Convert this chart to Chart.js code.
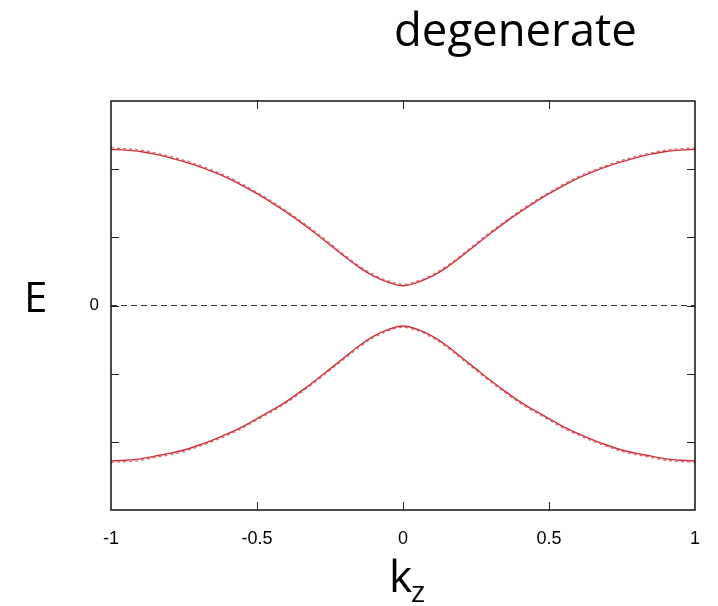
<!DOCTYPE html>
<html>
<head>
<meta charset="utf-8">
<script src="https://cdn.jsdelivr.net/npm/chart.js@4.4.0/dist/chart.umd.min.js"></script>
<style>
  html, body { margin: 0; padding: 0; background: #fff; }
  #wrap { width: 718px; height: 606px; }
</style>
</head>
<body>
<div id="wrap"><canvas id="chartBandes"></canvas></div>
<script>
// === Données ===
const kz = [-1, -0.95, -0.9, -0.85, -0.8, -0.75, -0.7, -0.65, -0.6, -0.55, -0.5,
  -0.45, -0.4, -0.35, -0.3, -0.25, -0.2, -0.15, -0.1, -0.05, 0,
  0.05, 0.1, 0.15, 0.2, 0.25, 0.3, 0.35, 0.4, 0.45, 0.5,
  0.55, 0.6, 0.65, 0.7, 0.75, 0.8, 0.85, 0.9, 0.95, 1];

// bande haute (trait plein)
const hautPlein = [2.29, 2.28, 2.26, 2.22, 2.17, 2.11, 2.04, 1.96, 1.87, 1.76, 1.64,
  1.51, 1.37, 1.22, 1.06, 0.89, 0.72, 0.56, 0.43, 0.34, 0.29,
  0.34, 0.43, 0.56, 0.72, 0.89, 1.06, 1.22, 1.37, 1.51, 1.64,
  1.76, 1.87, 1.96, 2.04, 2.11, 2.17, 2.22, 2.26, 2.28, 2.29];

// bande haute (pointillés)
const hautTirets = [2.31, 2.30, 2.28, 2.24, 2.19, 2.13, 2.06, 1.98, 1.89, 1.78, 1.66,
  1.53, 1.39, 1.24, 1.08, 0.91, 0.74, 0.58, 0.45, 0.36, 0.31,
  0.36, 0.45, 0.58, 0.74, 0.91, 1.08, 1.24, 1.39, 1.53, 1.66,
  1.78, 1.89, 1.98, 2.06, 2.13, 2.19, 2.24, 2.28, 2.30, 2.31];

// bande basse (trait plein)
const basPlein = [-2.28, -2.27, -2.25, -2.21, -2.17, -2.12, -2.05, -1.97, -1.88, -1.78, -1.66,
  -1.54, -1.41, -1.26, -1.10, -0.93, -0.76, -0.59, -0.45, -0.35, -0.30,
  -0.35, -0.45, -0.59, -0.76, -0.93, -1.10, -1.26, -1.41, -1.54, -1.66,
  -1.78, -1.88, -1.97, -2.05, -2.12, -2.17, -2.21, -2.25, -2.27, -2.28];

// bande basse (pointillés)
const basTirets = [-2.30, -2.29, -2.27, -2.23, -2.19, -2.14, -2.07, -1.99, -1.90, -1.80, -1.68,
  -1.56, -1.43, -1.28, -1.12, -0.95, -0.78, -0.61, -0.47, -0.37, -0.32,
  -0.37, -0.47, -0.61, -0.78, -0.95, -1.12, -1.28, -1.43, -1.56, -1.68,
  -1.80, -1.90, -1.99, -2.07, -2.14, -2.19, -2.23, -2.27, -2.29, -2.30];

const zero = [0, 0];
const ticksX = [-1, -0.5, 0, 0.5, 1];
const ticksY = [-3, -2, -1, 0, 1, 2, 3];

const ROUGE = "#cc2f3a";
const ROUGE_CLAIR = "#d9646c";

function pts(xs, ys) {
  return xs.map((x, i) => ({ x, y: ys[i] }));
}

// === Cadre, graduations intérieures et titres ===
const cadre = {
  id: "cadre",
  afterDraw(chart) {
    const { ctx, chartArea: a, scales } = chart;
    const sx = scales.x, sy = scales.y;
    ctx.save();
    ctx.strokeStyle = "#111";
    ctx.lineWidth = 1.5;
    ctx.strokeRect(a.left, a.top, a.right - a.left, a.bottom - a.top);

    ctx.lineWidth = 1;
    ctx.strokeStyle = "#222";
    ctx.beginPath();
    ticksX.slice(1, -1).forEach(v => {
      const px = Math.round(sx.getPixelForValue(v)) + 0.5;
      ctx.moveTo(px, a.bottom); ctx.lineTo(px, a.bottom - 8);
      ctx.moveTo(px, a.top); ctx.lineTo(px, a.top + 8);
    });
    ticksY.slice(1, -1).forEach(v => {
      const py = Math.round(sy.getPixelForValue(v)) + 0.5;
      ctx.moveTo(a.left, py); ctx.lineTo(a.left + 8, py);
      ctx.moveTo(a.right, py); ctx.lineTo(a.right - 8, py);
    });
    ctx.stroke();

    ctx.fillStyle = "#000";
    ctx.textBaseline = "alphabetic";
    ctx.textAlign = "left";
    ctx.font = "45.5px 'Open Sans'";
    ctx.fillText("degenerate", 394, 46);

    ctx.font = "42px 'Open Sans'";
    ctx.fillText("E", 24, 312);

    ctx.font = "44px 'Open Sans'";
    ctx.fillText("k", 389, 592);
    ctx.font = "30px 'Open Sans'";
    ctx.fillText("z", 411, 602);
    ctx.restore();
  }
};

// === Graphique ===
const ctx = document.getElementById("chartBandes").getContext("2d");
const chart = new Chart(ctx, {
  type: "line",
  data: {
    datasets: [
      { data: pts([-1, 1], zero), borderColor: "#333", borderWidth: 1.2, borderDash: [6, 4], pointRadius: 0 },
      { data: pts(kz, hautTirets), borderColor: ROUGE_CLAIR, borderWidth: 1.3, borderDash: [3, 3], pointRadius: 0, cubicInterpolationMode: "monotone" },
      { data: pts(kz, basTirets), borderColor: ROUGE_CLAIR, borderWidth: 1.3, borderDash: [3, 3], pointRadius: 0, cubicInterpolationMode: "monotone" },
      { data: pts(kz, hautPlein), borderColor: ROUGE, borderWidth: 1.4, pointRadius: 0, cubicInterpolationMode: "monotone" },
      { data: pts(kz, basPlein), borderColor: ROUGE, borderWidth: 1.4, pointRadius: 0, cubicInterpolationMode: "monotone" }
    ]
  },
  options: {
    responsive: true,
    maintainAspectRatio: false,
    animation: false,
    layout: { padding: { top: 101, right: 20, left: 0, bottom: 0 } },
    plugins: { legend: { display: false }, tooltip: { enabled: false } },
    scales: {
      x: {
        type: "linear", min: -1, max: 1,
        afterBuildTicks: s => { s.ticks = ticksX.map(v => ({ value: v })); },
        afterFit: s => { s.height = 96; },
        grid: { display: false, drawTicks: false },
        border: { display: false },
        ticks: { color: "#000", padding: 18, maxRotation: 0, font: { family: "'Liberation Sans'", size: 18 },
          callback: v => String(v) }
      },
      y: {
        type: "linear", min: -3, max: 3,
        afterBuildTicks: s => { s.ticks = ticksY.map(v => ({ value: v })); },
        afterFit: s => { s.width = 111; },
        grid: { display: false, drawTicks: false },
        border: { display: false },
        ticks: { color: "#000", padding: 12, font: { family: "'Liberation Sans'", size: 17 },
          callback: v => (v === 0 ? "0" : "") }
      }
    }
  },
  plugins: [cadre]
});
</script>
</body>
</html>
